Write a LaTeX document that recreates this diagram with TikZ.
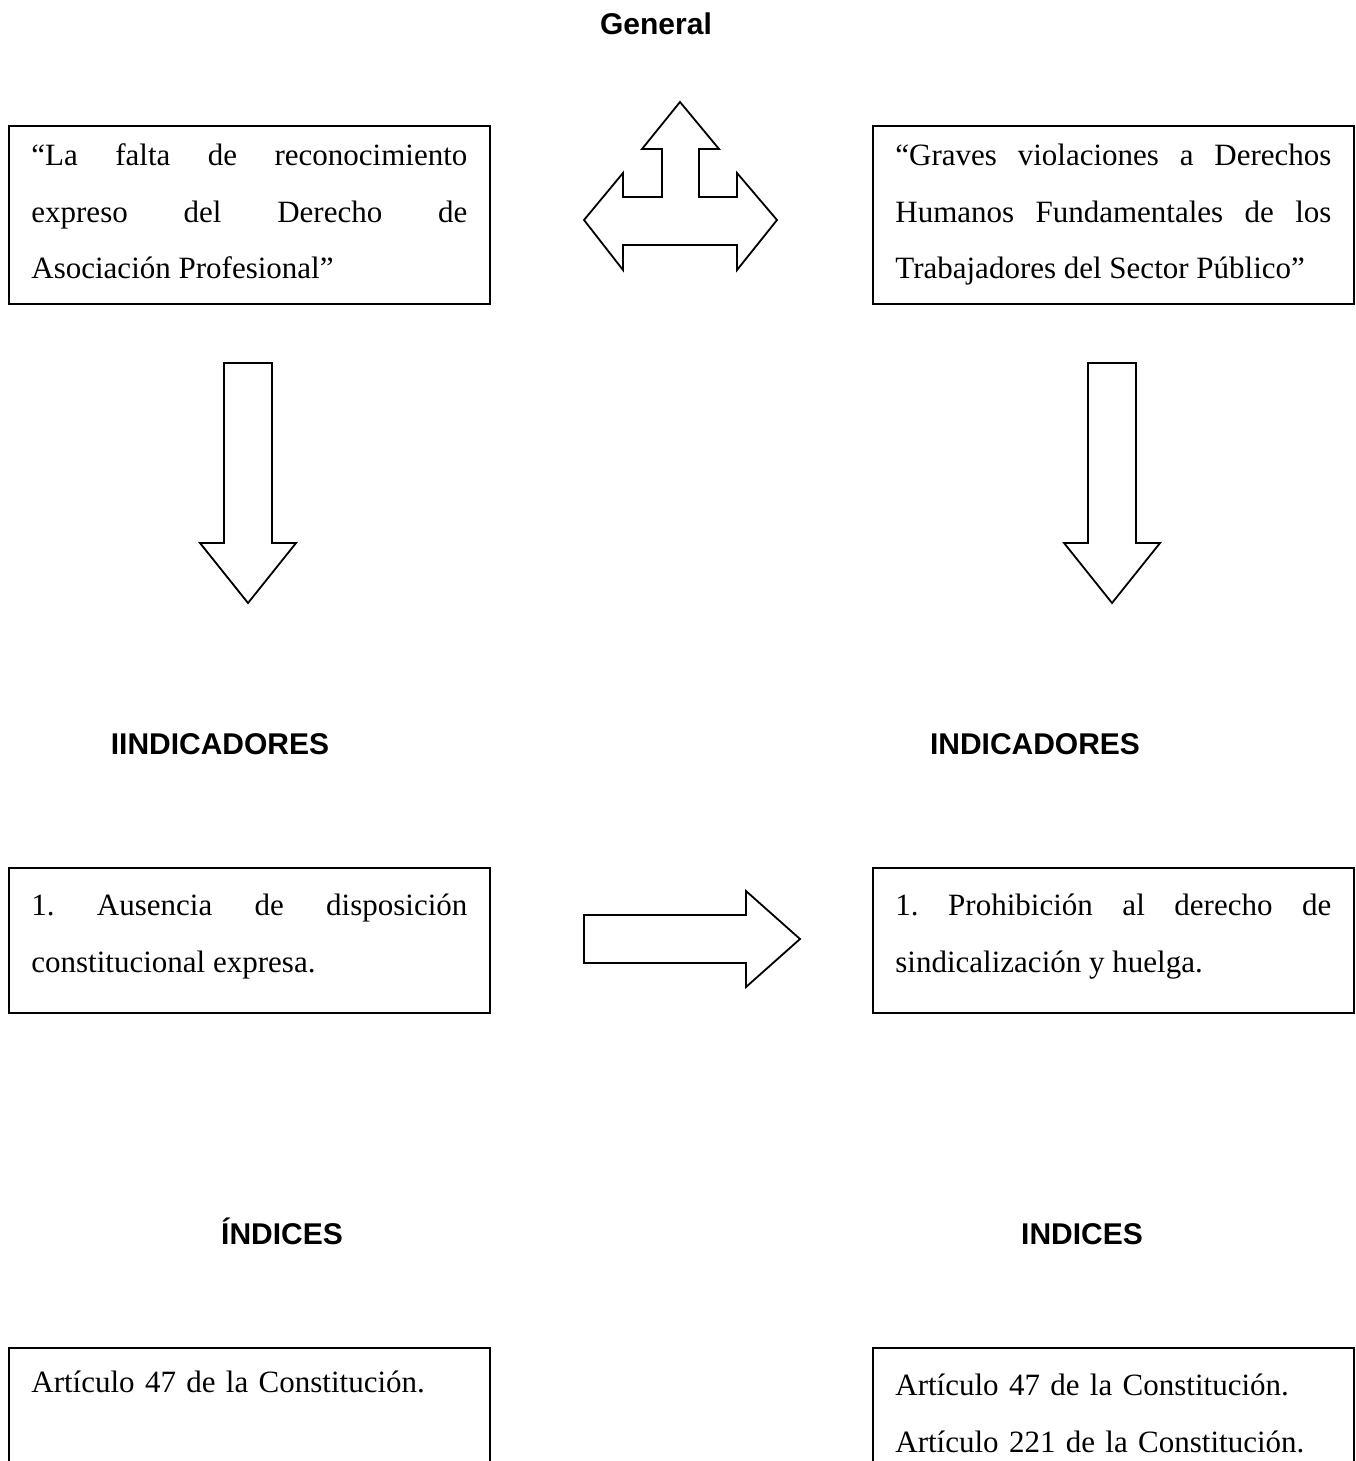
\documentclass[tikz,border=0pt]{standalone}
\usepackage{fontspec}
\setmainfont{Liberation Serif}
\newfontfamily\titulofont{Liberation Sans}
\frenchspacing

\begin{document}
\begin{tikzpicture}[x=1pt, y=-1pt,
  caja/.style = {draw, line width=1.8pt, anchor=north west, text width=436pt,
    inner xsep=22.5pt, inner ysep=0pt, align=justify,
    font=\fontsize{31}{56.5}\selectfont},
  titulo/.style = {anchor=base, font=\titulofont\bfseries\fontsize{30}{36}\selectfont},
  flecha/.style = {draw, line width=1.8pt, line join=miter}]
\useasboundingbox (0,0) rectangle (1355,1461);

%titulos
\node[titulo] (general) at (656,35) {General};
\node[titulo] (indic1) at (220,754) {IINDICADORES};
\node[titulo] (indic2) at (1035,754) {INDICADORES};
\node[titulo] (indices1) at (282,1244) {ÍNDICES};
\node[titulo] (indices2) at (1082,1244) {INDICES};

%cajas
\node[caja, text height=40pt, text depth=138pt] (falta) at (8,125)
  {“La falta de reconocimiento\linebreak expreso del Derecho de\linebreak Asociación Profesional”};
\node[caja, text height=40pt, text depth=138pt] (graves) at (872,125)
  {“Graves violaciones a Derechos\linebreak Humanos Fundamentales de los\linebreak Trabajadores del Sector Público”};
\node[caja, text height=48pt, text depth=97pt] (ausencia) at (8,867)
  {1. Ausencia de disposición\linebreak constitucional expresa.};
\node[caja, text height=48pt, text depth=97pt] (prohib) at (872,867)
  {1. Prohibición al derecho de\linebreak sindicalización y huelga.};
\node[caja, align=left, text height=45pt, text depth=200pt] (art1) at (8,1347)
  {Artículo 47 de la Constitución.};
\node[caja, align=left, text height=48pt, text depth=200pt] (art2) at (872,1347)
  {Artículo 47 de la Constitución.\\ Artículo 221 de la Constitución.};

%flechas
\draw[flecha] (680,102) -- (719,149) -- (699,149) -- (699,197) -- (737,197)
  -- (737,173) -- (777,220) -- (737,270) -- (737,245) -- (623,245) -- (623,270)
  -- (584,220) -- (623,173) -- (623,197) -- (662,197) -- (662,149) -- (642,149) -- cycle;
\foreach \x in {248,1112}
  \draw[flecha] (\x-24,363) -- (\x+24,363) -- (\x+24,543) -- (\x+48,543)
    -- (\x,603) -- (\x-48,543) -- (\x-24,543) -- cycle;
\draw[flecha] (584,915) -- (746,915) -- (746,891) -- (800,939) -- (746,987)
  -- (746,963) -- (584,963) -- cycle;
\end{tikzpicture}
\end{document}
